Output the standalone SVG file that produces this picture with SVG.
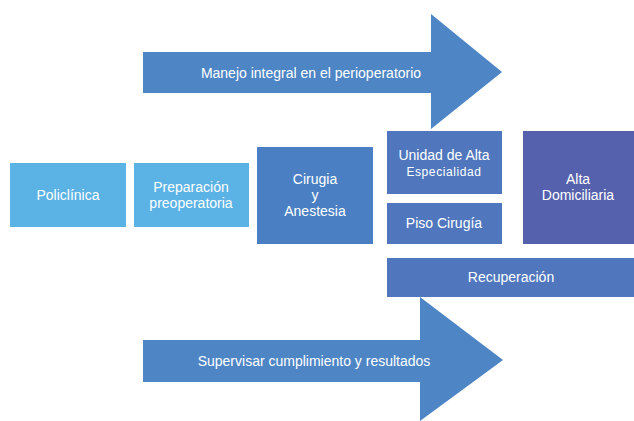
<svg xmlns="http://www.w3.org/2000/svg" width="634" height="421" viewBox="0 0 634 421">
<style>
text{font-family:"Liberation Sans",Arial,sans-serif;font-size:14px;fill:#fff;text-anchor:middle}
.arrow{fill:#4D85C5}
.light{fill:#5BB2E5}
.mid{fill:#4A80C3}
.unit{fill:#5077BE}
.alta{fill:#5661AE}
</style>
<rect width="634" height="421" fill="#fff"/>
<g id="arrow-top">
<polygon class="arrow" points="143,52 431,52 431,14 502,72 431,129 431,93 143,93"/>
<text x="311" y="78">Manejo integral en el perioperatorio</text>
</g>
<g id="policlinica">
<rect class="light" x="10" y="163" width="116" height="64"/>
<text x="68" y="200">Policlínica</text>
</g>
<g id="preparacion">
<rect class="light" x="134" y="163" width="115" height="64"/>
<text x="191" y="192">Preparación</text>
<text x="191" y="208">preoperatoria</text>
</g>
<g id="cirugia">
<rect class="mid" x="257" y="147" width="116" height="97"/>
<text x="315" y="184">Cirugia</text>
<text x="315" y="200">y</text>
<text x="315" y="216">Anestesia</text>
</g>
<g id="unidad">
<rect class="unit" x="387" y="131" width="115" height="63"/>
<text x="444" y="160">Unidad de Alta</text>
<text x="444" y="176" style="font-size:12px;letter-spacing:0.6px">Especialidad</text>
</g>
<g id="piso">
<rect class="unit" x="387" y="203" width="115" height="41"/>
<text x="444" y="228">Piso Cirugía</text>
</g>
<g id="alta">
<rect class="alta" x="523" y="131" width="111" height="113"/>
<text x="578" y="184">Alta</text>
<text x="578" y="200">Domiciliaria</text>
</g>
<g id="recuperacion">
<rect class="unit" x="387" y="258" width="247" height="39"/>
<text x="511" y="282">Recuperación</text>
</g>
<g id="arrow-bottom">
<polygon class="arrow" points="143,340 420,340 420,297 503,360 420,421 420,382 143,382"/>
<text x="314" y="366">Supervisar cumplimiento y resultados</text>
</g>
<g id="connectors"></g>
</svg>
